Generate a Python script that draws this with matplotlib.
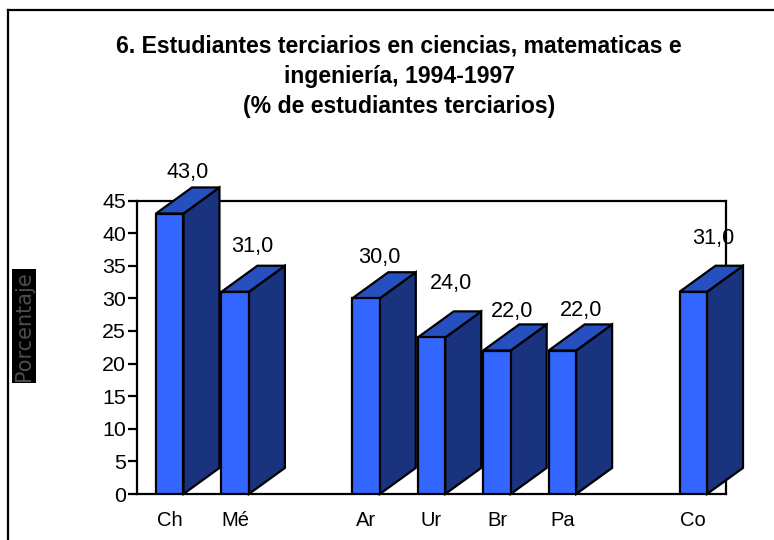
import matplotlib
matplotlib.use("Agg")
import matplotlib.pyplot as plt
from matplotlib.patches import Polygon
from matplotlib.lines import Line2D

categories = ["Ch", "Mé", "Ar", "Ur", "Br", "Pa", "Co"]
slots = [0.5, 1.5, 3.5, 4.5, 5.5, 6.5, 8.5]
values = [43.0, 31.0, 30.0, 24.0, 22.0, 22.0, 31.0]
value_labels = ["43,0", "31,0", "30,0", "24,0", "22,0", "22,0", "31,0"]
yticks = [0, 5, 10, 15, 20, 25, 30, 35, 40, 45]

label_nudge_x = [0, -1, -5, 2, -3, 1, 2]
label_nudge_y = [15, 19, 15, 28, 13, 14, 27]

plt.rcParams["font.family"] = ["Liberation Sans", "DejaVu Sans"]
W, H = 774, 540
fig = plt.figure(figsize=(W / 100, H / 100), dpi=100, facecolor="white")
ax = fig.add_axes([137 / W, 1 - 494 / H, 589 / W, 293.5 / H])
ax.set_xlim(0, 9)
ax.set_ylim(0, 45)
ax.set_facecolor("white")

FRONT, SIDE, TOP = "#3366FF", "#1A337F", "#2650C0"
bw, dx, dy = 0.42, 0.55, 4.0
lw = 1.6

for sp in ax.spines.values():
    sp.set_linewidth(lw)
    sp.set_zorder(1)

for i, (x, v) in enumerate(zip(slots, values)):
    l, r = x - bw / 2, x + bw / 2
    ax.add_patch(Polygon([(r, 0), (r + dx, dy), (r + dx, v + dy), (r, v)],
                         fc=SIDE, ec="black", lw=lw, zorder=3, clip_on=False, joinstyle="miter"))
    ax.add_patch(Polygon([(l, v), (l + dx, v + dy), (r + dx, v + dy), (r, v)],
                         fc=TOP, ec="black", lw=lw, zorder=3, clip_on=False, joinstyle="miter"))
ax.bar(slots, values, width=bw, color=FRONT, edgecolor="black", linewidth=lw, zorder=4)

for i, (x, v, t) in enumerate(zip(slots, values, value_labels)):
    ax.annotate(t, xy=(x + dx / 2, v + dy),
                xytext=(label_nudge_x[i] * 0.72, label_nudge_y[i] * 0.72),
                textcoords="offset points", ha="center", va="center",
                fontsize=15.6, color="black", zorder=0.5, annotation_clip=False)

ax.set_yticks(yticks)
ax.set_yticklabels([str(t) for t in yticks], fontsize=15.4)
ax.tick_params(axis="y", length=6.5, width=lw, pad=1.5)
ax.set_xticks(slots)
ax.set_xticklabels(categories, fontsize=14.5)
ax.tick_params(axis="x", length=0, pad=12)

# outer chart frame
fig.add_artist(Line2D([8 / W, 8 / W], [0, 1 - 10 / H], color="black", lw=1.6))
fig.add_artist(Line2D([8 / W, 1], [1 - 10 / H, 1 - 10 / H], color="black", lw=1.6))

for line, y in [("6. Estudiantes terciarios en ciencias, matematicas e", 45.5),
                ("ingeniería, 1994-1997", 77),
                ("(% de estudiantes terciarios)", 106.5)]:
    fig.text(399 / W, 1 - y / H, line, ha="center", va="center",
             fontsize=16.6, fontweight="bold", color="black")

fig.text(24 / W, 1 - 326 / H, "Porcentaje", rotation=90, ha="center", va="center",
         fontsize=15, color="#4d4d4d", fontfamily="DejaVu Sans",
         bbox=dict(fc="black", ec="none", boxstyle="square,pad=0.1"))

fig.savefig("out.png", dpi=100, facecolor="white")
